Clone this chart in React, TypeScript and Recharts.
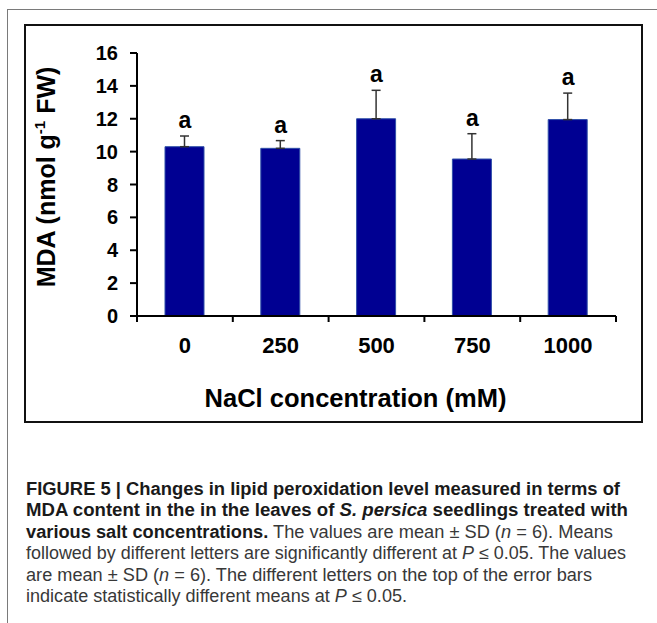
import React from 'react';
import { ComposedChart, Bar, Line, XAxis, YAxis, ErrorBar, LabelList } from 'recharts';

const concentrations = ['0', '250', '500', '750', '1000'];
const mdaMeans = [10.3, 10.2, 12.0, 9.55, 11.95];
const mdaSD = [0.65, 0.47, 1.73, 1.54, 1.61];
const letters = ['a', 'a', 'a', 'a', 'a'];
const yTicks = [0, 2, 4, 6, 8, 10, 12, 14, 16];

const FONT = '"Liberation Sans", Arial, Helvetica, sans-serif';

const data = concentrations.map((c, i) => ({
  conc: c,
  pos: i + 0.5,
  mda: mdaMeans[i],
  err: [0, mdaSD[i]],
  top: mdaMeans[i] + mdaSD[i],
  letter: letters[i],
}));

const boundaryTicks = concentrations.map((_, i) => i).concat([concentrations.length]);
const centerTicks = concentrations.map((_, i) => i + 0.5);
const xTicks = [...boundaryTicks, ...centerTicks].sort((a, b) => a - b);

const XTick = (props: any) => {
  const { x, y, payload } = props;
  const v = payload.value;
  if (Number.isInteger(v)) {
    return <line x1={x} y1={y} x2={x} y2={y + 6} stroke="#000" strokeWidth={2} />;
  }
  return (
    <text x={x} y={y + 37} textAnchor="middle" fontSize={22} fontWeight="bold" fill="#000" fontFamily={FONT}>
      {concentrations[Math.floor(v)]}
    </text>
  );
};

const LetterLabel = (props: any) => {
  const vb = props.viewBox || {};
  const x = props.x != null ? props.x : vb.x;
  const y = props.y != null ? props.y : vb.y;
  return (
    <text x={x} y={y - 8} textAnchor="middle" fontSize={23} fontWeight="bold" fill="#000" fontFamily={FONT}>
      {props.value}
    </text>
  );
};

const captionLines: { w: number; parts: { t: string; b?: boolean; i?: boolean }[] }[] = [
  { w: 594, parts: [{ t: 'FIGURE 5 | Changes in lipid peroxidation level measured in terms of', b: true }] },
  {
    w: 602,
    parts: [
      { t: 'MDA content in the in the leaves of ', b: true },
      { t: 'S. persica', b: true, i: true },
      { t: ' seedlings treated with', b: true },
    ],
  },
  {
    w: 587,
    parts: [
      { t: 'various salt concentrations.', b: true },
      { t: ' The values are mean \u00B1 SD (' },
      { t: 'n', i: true },
      { t: ' = 6). Means' },
    ],
  },
  {
    w: 600,
    parts: [
      { t: 'followed by different letters are significantly different at ' },
      { t: 'P', i: true },
      { t: ' \u2264 0.05. The values' },
    ],
  },
  {
    w: 566,
    parts: [
      { t: 'are mean \u00B1 SD (' },
      { t: 'n', i: true },
      { t: ' = 6). The different letters on the top of the error bars' },
    ],
  },
  {
    w: 381,
    parts: [
      { t: 'indicate statistically different means at ' },
      { t: 'P', i: true },
      { t: ' \u2264 0.05.' },
    ],
  },
];

export default function App() {
  return (
    <div
      style={{
        position: 'absolute',
        left: 0,
        top: 0,
        width: 657,
        height: 623,
        overflow: 'hidden',
        background: '#fff',
        fontFamily: FONT,
      }}
    >
      <div
        style={{
          position: 'absolute',
          left: 7,
          top: 9,
          width: 760,
          height: 760,
          border: '1px solid #7a7a7a',
        }}
      />
      <div
        style={{
          position: 'absolute',
          left: 24,
          top: 24,
          width: 619,
          height: 399,
          border: '2px solid #111',
          boxSizing: 'border-box',
        }}
      />
      <div style={{ position: 'absolute', left: 25, top: 25 }}>
        <ComposedChart
          width={617}
          height={397}
          data={data}
          margin={{ top: 28, right: 26, bottom: 0, left: 0 }}
          style={{ fontFamily: FONT }}
        >
          <XAxis
            dataKey="pos"
            type="number"
            domain={[0, concentrations.length]}
            ticks={xTicks}
            interval={0}
            tickSize={0}
            tickMargin={0}
            tickLine={false}
            tick={<XTick />}
            axisLine={{ stroke: '#000', strokeWidth: 2 }}
            height={106}
          />
          <YAxis
            type="number"
            domain={[0, 16]}
            ticks={yTicks}
            interval={0}
            width={112}
            tickSize={7}
            tickMargin={12}
            axisLine={{ stroke: '#000', strokeWidth: 2 }}
            tickLine={{ stroke: '#000', strokeWidth: 2 }}
            tick={{ fontSize: 20, fontWeight: 'bold', fill: '#000', fontFamily: FONT }}
          />
          <Bar
            dataKey="mda"
            barSize={39}
            fill="#000092"
            stroke="#2f4fa8"
            strokeWidth={1}
            isAnimationActive={false}
          >
            <ErrorBar dataKey="err" width={4.5} stroke="#333" strokeWidth={1.5} direction="y" />
          </Bar>
          <Line
            dataKey="top"
            stroke="none"
            dot={false}
            activeDot={false}
            isAnimationActive={false}
            legendType="none"
          >
            <LabelList dataKey="letter" content={<LetterLabel />} />
          </Line>
        </ComposedChart>
      </div>
      <svg
        width={657}
        height={623}
        style={{ position: 'absolute', left: 0, top: 0, pointerEvents: 'none' }}
      >
        <text
          transform="translate(55,177) rotate(-90)"
          x={0}
          y={0}
          textAnchor="middle"
          fontSize={25}
          fontWeight="bold"
          fill="#000"
          fontFamily={FONT}
        >
          MDA (nmol g
          <tspan fontSize={15} dy={-10}>-1</tspan>
          <tspan dy={10}> FW)</tspan>
        </text>
        <text
          x={355.5}
          y={407}
          textAnchor="middle"
          fontSize={25.5}
          fontWeight="bold"
          fill="#000"
          fontFamily={FONT}
        >
          NaCl concentration  (mM)
        </text>
        {captionLines.map((line, li) => (
          <text
            key={li}
            x={26}
            y={495 + li * 21.4}
            fontSize={17.5}
            fontFamily={FONT}
            textLength={line.w}
            lengthAdjust="spacingAndGlyphs"
            xmlSpace="preserve"
          >
            {line.parts.map((p, pi) => (
              <tspan
                key={pi}
                fontWeight={p.b ? 'bold' : 'normal'}
                fontStyle={p.i ? 'italic' : 'normal'}
                fill={p.b ? '#1a1a1a' : '#383838'}
              >
                {p.t}
              </tspan>
            ))}
          </text>
        ))}
      </svg>
    </div>
  );
}
